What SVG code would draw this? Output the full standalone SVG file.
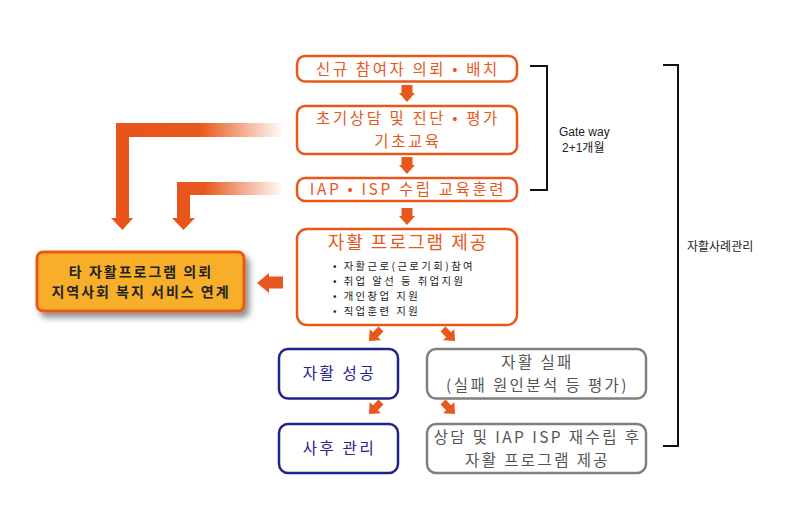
<svg xmlns="http://www.w3.org/2000/svg" width="796" height="518" viewBox="0 0 796 518">
<style>
text{font-family:"Noto Sans CJK KR","Noto Sans",sans-serif;}
.ob{fill:#fff;stroke:#E8581C;stroke-width:2.5;}
.ot{fill:#E8581C;font-size:15.5px;text-anchor:middle;letter-spacing:2.6px;}
.nb{fill:#fff;stroke:#23238C;stroke-width:2.5;}
.nt{fill:#23238C;font-size:15.5px;text-anchor:middle;letter-spacing:2.6px;}
.gb{fill:#fff;stroke:#7F7F7F;stroke-width:2.5;}
.gt{fill:#555;font-size:15.5px;text-anchor:middle;letter-spacing:2.4px;}
.lt{fill:#222;font-size:10.4px;letter-spacing:2.4px;}
.yt{fill:#222;font-size:14px;text-anchor:middle;font-weight:bold;letter-spacing:2px;}
.ar{fill:#E8581C;}
.br{fill:none;stroke:#111;stroke-width:2;}
.bt{fill:#222;font-size:12px;font-family:"Liberation Sans","Noto Sans CJK KR",sans-serif;}
</style>
<defs>
<linearGradient id="fadeA" x1="116" y1="0" x2="284" y2="0" gradientUnits="userSpaceOnUse">
<stop offset="0" stop-color="#E8541A"/>
<stop offset="0.5" stop-color="#E8581C"/>
<stop offset="1" stop-color="#E8581C" stop-opacity="0"/>
</linearGradient>
<linearGradient id="fadeB" x1="177" y1="0" x2="284" y2="0" gradientUnits="userSpaceOnUse">
<stop offset="0" stop-color="#E8541A"/>
<stop offset="0.25" stop-color="#E8581C"/>
<stop offset="1" stop-color="#E8581C" stop-opacity="0"/>
</linearGradient>
<filter id="sh" x="-10%" y="-20%" width="130%" height="150%">
<feDropShadow dx="4" dy="5" stdDeviation="3" flood-color="#000" flood-opacity="0.45"/>
</filter>
<polygon id="diag" points="0,-3.5 8,-3.5 8,-8 17,0 8,8 8,3.5 0,3.5"/>
<polygon id="down" points="-5.5,0 5.5,0 5.5,8 8,8 0,17 -8,8 -5.5,8"/>
</defs>

<g id="connectors">
<use href="#down" class="ar" x="407" y="85"/>
<use href="#down" class="ar" x="407" y="157"/>
<use href="#down" class="ar" x="407" y="208"/>
<path d="M116,123 H284 V137 H129 V218 H133 L122.5,230 L111,218 H116 Z" fill="url(#fadeA)"/>
<path d="M177,182 H284 V195 H190 V218 H195 L183.5,230 L172,218 H177 Z" fill="url(#fadeB)"/>
<polygon class="ar" points="257,283 269,273 269,276.5 283,276.5 283,288.5 269,288.5 269,293"/>
<use href="#diag" class="ar" transform="translate(381,329) rotate(135)"/>
<use href="#diag" class="ar" transform="translate(443,329) rotate(45)"/>
<use href="#diag" class="ar" transform="translate(381,402) rotate(135)"/>
<use href="#diag" class="ar" transform="translate(443,402) rotate(45)"/>
</g>

<g id="n1">
<rect class="ob" x="297" y="56" width="220" height="25.5" rx="8"/>
<text class="ot" x="408" y="74.5">신규 참여자 의뢰 • 배치</text>
</g>
<g id="n2">
<rect class="ob" x="297" y="106" width="220" height="48" rx="8"/>
<text class="ot" x="408" y="124">초기상담 및 진단 • 평가</text>
<text class="ot" x="408" y="147">기초교육</text>
</g>
<g id="n3">
<rect class="ob" x="297" y="178" width="220" height="23" rx="8"/>
<text class="ot" x="408" y="195">IAP • ISP 수립 교육훈련</text>
</g>
<g id="n4">
<rect class="ob" x="297" y="229" width="220" height="96" rx="10"/>
<text class="ot" x="408" y="249" style="font-size:18px;letter-spacing:2px">자활 프로그램 제공</text>
<text class="lt" x="333" y="270">• 자활근로(근로기회)참여</text>
<text class="lt" x="333" y="285">• 취업 알선 등 취업지원</text>
<text class="lt" x="333" y="300">• 개인창업 지원</text>
<text class="lt" x="333" y="315">• 직업훈련 지원</text>
</g>
<g id="n5">
<rect x="37" y="252" width="207" height="59" rx="6" fill="#F7AF2B" stroke="#E8581C" stroke-width="3" filter="url(#sh)"/>
<text class="yt" x="141" y="277">타 자활프로그램 의뢰</text>
<text class="yt" x="141" y="297">지역사회 복지 서비스 연계</text>
</g>
<g id="n6">
<rect class="nb" x="279" y="349" width="119" height="49.5" rx="9"/>
<text class="nt" x="339.5" y="379">자활 성공</text>
</g>
<g id="n7">
<rect class="nb" x="279" y="424" width="119" height="49" rx="9"/>
<text class="nt" x="339.5" y="454">사후 관리</text>
</g>
<g id="n8">
<rect class="gb" x="427" y="349" width="219" height="49.5" rx="9"/>
<text class="gt" x="537.5" y="367.5">자활 실패</text>
<text class="gt" x="537.5" y="391">(실패 원인분석 등 평가)</text>
</g>
<g id="n9">
<rect class="gb" x="427" y="424" width="219" height="49" rx="9"/>
<text class="gt" x="537.5" y="442.5">상담 및 IAP ISP 재수립 후</text>
<text class="gt" x="537.5" y="466">자활 프로그램 제공</text>
</g>
<g id="brackets">
<polyline class="br" points="530,66 547,66 547,190 530,190"/>
<text class="bt" x="559" y="136">Gate way</text>
<text class="bt" x="562" y="152">2+1개월</text>
<polyline class="br" points="663,65 678,65 678,446 663,446"/>
<text class="bt" x="687" y="251" style="font-family:'Noto Sans CJK KR',sans-serif">자활사례관리</text>
</g>
</svg>
